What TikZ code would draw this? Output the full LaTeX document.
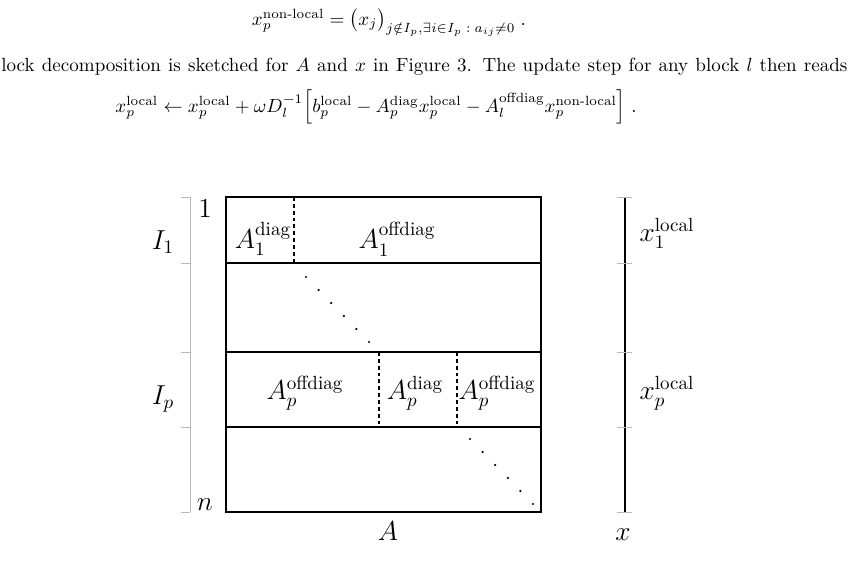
\RequirePackage{fix-cm}
\documentclass[tikz,border=0pt]{standalone}
\usepackage{amsmath,amssymb}
\usetikzlibrary{positioning,calc}

\begin{document}
\begin{tikzpicture}[x=0.525pt, y=-0.525pt,
    blk/.style={line width=1pt},
    split/.style={line width=1pt, dash pattern=on 2pt off 1.6pt},
    brace/.style={gray!55, line width=0.5pt},
    lbl/.style={inner sep=0pt},
    fig/.style={lbl, font=\fontsize{14.4}{17}\selectfont},
    dotm/.style={circle, fill=black, inner sep=0pt, minimum size=1.3pt}
]
\useasboundingbox (0,0) rectangle (850,560);

% Text above the figure
\node[lbl, anchor=base] (eqnl) at (389,25) {$x_p^{\text{non-local}} = \bigl(x_j\bigr)_{j\notin I_p,\exists i\in I_p\;:\;a_{ij}\neq 0}\;.$};
\node[lbl, anchor=base west] (txt) at (1,71) {\makebox[444.2pt][s]{lock decomposition is sketched for $A$ and $x$ in Figure 3. The update step for any block $l$ then reads}};
\node[lbl, anchor=base] (equp) at (376,112) {$x_p^{\text{local}} \leftarrow x_p^{\text{local}} + \omega D_l^{-1}\Bigl[b_p^{\text{local}} - A_p^{\text{diag}}x_p^{\text{local}} - A_l^{\text{offdiag}}x_p^{\text{non-local}}\Bigr]\;.$};

% Matrix A
\coordinate (tl) at (226,197);
\coordinate (br) at (541,512);
\draw[blk] (tl) rectangle (br);
\foreach \y/\nm in {263/ra, 352/rb, 427/rc} {
    \coordinate (\nm) at (226,\y);
    \draw[blk] (\nm) -- (\nm -| br);
}
\draw[split] (294,197) -- (294,263);
\draw[split] (379,352) -- (379,427);
\draw[split] (457,352) -- (457,427);

% diagonal dots
\foreach \i in {0,...,5} {
    \node[dotm] at ($(306,277)+\i*(12.6,13)$) {};
    \node[dotm] at ($(470,439)+\i*(12.6,13)$) {};
}

% block labels
\node[fig] (a1d) at (263,239) {$A_1^{\text{diag}}$};
\node[fig] (a1o) at (397,239) {$A_1^{\text{offdiag}}$};
\node[fig] (apol) at (305,393) {$A_p^{\text{offdiag}}$};
\node[fig] (apd) at (415,393) {$A_p^{\text{diag}}$};
\node[fig] (apor) at (497,393) {$A_p^{\text{offdiag}}$};
\node[fig, anchor=base] (nA) at (388,540) {$A$};

% index bracket
\draw[brace] (190,197) -- (190,512);
\foreach \y in {197,263,352,427,512}
    \draw[brace] (181,\y) -- (190,\y);
\node[fig] (i1) at (163,242) {$I_1$};
\node[fig] (ip) at (163,399) {$I_p$};
\node[fig] (one) at (205,209) {$1$};
\node[fig] (nn) at (205,505) {$n$};

% vector x
\draw[blk] (625,197) -- (625,512);
\foreach \y in {197,263,352,427,512}
    \draw[brace] (617,\y) -- (632,\y);
\node[fig] (x1) at (667,233) {$x_1^{\text{local}}$};
\node[fig] (xp) at (667,393) {$x_p^{\text{local}}$};
\node[fig, anchor=base] (nx) at (623,540) {$x$};

\end{tikzpicture}
\end{document}
